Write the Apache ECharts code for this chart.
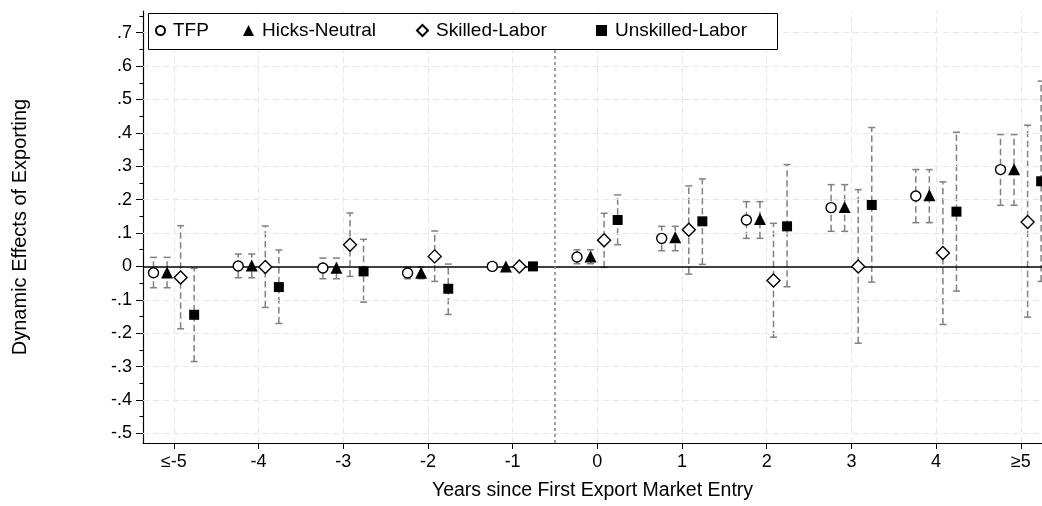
<!DOCTYPE html>
<html>
<head>
<meta charset="utf-8">
<script src="https://cdn.jsdelivr.net/npm/echarts@6/dist/echarts.min.js"></script>
<style>
html, body { margin: 0; padding: 0; background: #fff; }
#main { width: 1042px; height: 506px; }
</style>
</head>
<body>
<div id="main"></div>
<script>
// ---- data ----
var xTicks = [-5, -4, -3, -2, -1, 0, 1, 2, 3, 4, 5];
var xLabels = ['≤-5', '-4', '-3', '-2', '-1', '0', '1', '2', '3', '4', '≥5'];
var yTicks = [-0.5, -0.4, -0.3, -0.2, -0.1, 0, 0.1, 0.2, 0.3, 0.4, 0.5, 0.6, 0.7];
var yLabels = ['-.5', '-.4', '-.3', '-.2', '-.1', '0', '.1', '.2', '.3', '.4', '.5', '.6', '.7'];
var yMinor = [-0.45, -0.35, -0.25, -0.15, -0.05, 0.05, 0.15, 0.25, 0.35, 0.45, 0.55, 0.65, 0.75];

var tfp     = [-0.019, 0.001, -0.005, -0.020, 0, 0.028, 0.084, 0.139, 0.176, 0.211, 0.290];
var tfpLo   = [-0.064, -0.034, -0.037, -0.037, null, 0.008, 0.047, 0.084, 0.105, 0.131, 0.183];
var tfpHi   = [0.027, 0.037, 0.025, -0.002, null, 0.050, 0.120, 0.194, 0.245, 0.290, 0.395];

var hicks   = [-0.018, 0.003, -0.004, -0.019, 0, 0.030, 0.087, 0.142, 0.178, 0.213, 0.291];
var hicksLo = [-0.064, -0.034, -0.037, -0.037, null, 0.008, 0.047, 0.084, 0.105, 0.131, 0.183];
var hicksHi = [0.027, 0.037, 0.025, -0.002, null, 0.050, 0.120, 0.194, 0.245, 0.290, 0.395];

var skilled   = [-0.033, -0.002, 0.065, 0.030, 0, 0.078, 0.110, -0.042, 0.000, 0.040, 0.133];
var skilledLo = [-0.187, -0.123, -0.030, -0.045, null, -0.003, -0.023, -0.212, -0.230, -0.174, -0.152];
var skilledHi = [0.122, 0.121, 0.160, 0.106, null, 0.159, 0.241, 0.129, 0.230, 0.253, 0.423];

var unskilled   = [-0.145, -0.062, -0.015, -0.067, 0, 0.139, 0.135, 0.120, 0.184, 0.164, 0.255];
var unskilledLo = [-0.285, -0.171, -0.107, -0.144, null, 0.065, 0.006, -0.061, -0.047, -0.074, -0.045];
var unskilledHi = [-0.006, 0.049, 0.081, 0.007, null, 0.214, 0.262, 0.305, 0.416, 0.402, 0.555];

var chartDom = document.getElementById('main');
var myChart = echarts.init(chartDom);
var FONT = '"Liberation Sans", Arial, sans-serif';

// points of one series, shifted a bit left/right of the category
function points(vals, off) {
    return vals.map(function (v, i) { return [xTicks[i] + off, v]; });
}
function bars(lo, hi, off) {
    var out = [];
    for (var i = 0; i < lo.length; i++) {
        if (lo[i] == null) continue;
        out.push([xTicks[i] + off, lo[i], hi[i]]);
    }
    return out;
}

function renderBar(params, api) {
    var x = api.value(0);
    var a = api.coord([x, api.value(1)]);
    var b = api.coord([x, api.value(2)]);
    var w = 3.5;
    var st = { stroke: '#808080', lineWidth: 1.5 };
    return {
        type: 'group',
        children: [
            { type: 'line', shape: { x1: a[0], y1: a[1], x2: b[0], y2: b[1] },
              style: { stroke: '#808080', lineWidth: 1.5, lineDash: [6.5, 3.5] } },
            { type: 'line', shape: { x1: a[0] - w, y1: a[1], x2: a[0] + w, y2: a[1] }, style: st },
            { type: 'line', shape: { x1: b[0] - w, y1: b[1], x2: b[0] + w, y2: b[1] }, style: st }
        ]
    };
}

function barSeries(lo, hi, off) {
    return {
        type: 'custom',
        renderItem: renderBar,
        data: bars(lo, hi, off),
        encode: { x: 0, y: [1, 2] },
        silent: true,
        z: 3
    };
}

// dashed grid lines, drawn across the whole plot
var gridLines = [];
yTicks.forEach(function (v) { if (v !== 0) gridLines.push({ yAxis: v }); });
xTicks.forEach(function (v) { gridLines.push({ xAxis: v }); });

// one legend per key so each sits where the original puts it
function legendAt(name, left, size) {
    return {
        data: [name],
        left: left,
        top: 21,
        padding: 0,
        itemWidth: size,
        itemHeight: size,
        itemGap: 0,
        selectedMode: false,
        z: 10,
        textStyle: { fontFamily: FONT, fontSize: 19, color: '#000', padding: [0, 0, 0, 3] }
    };
}

option = {
    backgroundColor: '#fff',
    animation: false,
    grid: { left: 143, right: 0, top: 11, bottom: 61 },
    graphic: [{
        type: 'rect',
        shape: { x: 148.5, y: 13.5, width: 629, height: 36 },
        style: { fill: '#fff', stroke: '#000', lineWidth: 1 },
        z: 8
    }],
    legend: [
        legendAt('TFP', 155, 9),
        legendAt('Hicks-Neutral', 243, 11),
        legendAt('Skilled-Labor', 416, 11),
        legendAt('Unskilled-Labor', 596, 11)
    ],
    xAxis: {
        type: 'value',
        min: -5.364,
        max: 5.25,
        name: 'Years since First Export Market Entry',
        nameLocation: 'middle',
        nameGap: 38,
        nameTextStyle: { fontFamily: FONT, fontSize: 19.5, color: '#000' },
        axisLine: { onZero: false, lineStyle: { color: '#000', width: 1.2 } },
        axisTick: { customValues: xTicks, length: 6, lineStyle: { color: '#000' } },
        axisLabel: {
            customValues: xTicks,
            margin: 10,
            fontFamily: FONT, fontSize: 18, color: '#000',
            formatter: function (v) { return xLabels[xTicks.indexOf(Math.round(v))]; }
        },
        splitLine: { show: false }
    },
    yAxis: [{
        type: 'value',
        min: -0.529,
        max: 0.765,
        name: 'Dynamic Effects of Exporting',
        nameLocation: 'middle',
        nameGap: 113,
        nameTextStyle: { fontFamily: FONT, fontSize: 20, color: '#000' },
        axisLine: { show: true, onZero: false, lineStyle: { color: '#000', width: 1.2 } },
        axisTick: { customValues: yTicks, length: 7, lineStyle: { color: '#000' } },
        axisLabel: {
            customValues: yTicks,
            margin: 11,
            fontFamily: FONT, fontSize: 18, color: '#000',
            formatter: function (v) {
                var i = yTicks.findIndex(function (t) { return Math.abs(t - v) < 1e-6; });
                return i < 0 ? '' : yLabels[i];
            }
        },
        splitLine: { show: false }
    }, {
        type: 'value',
        min: -0.529,
        max: 0.765,
        position: 'left',
        axisLine: { show: false, onZero: false },
        axisTick: { show: true, customValues: yMinor, length: 3.5, lineStyle: { color: '#000' } },
        axisLabel: { show: false },
        splitLine: { show: false }
    }],
    series: [
        {
            type: 'line',
            data: [],
            silent: true,
            markLine: {
                silent: true,
                symbol: 'none',
                label: { show: false },
                lineStyle: { color: '#e6e6e6', type: [6, 4], width: 1 },
                data: gridLines
            },
            z: 1
        },
        {
            type: 'line',
            data: [],
            silent: true,
            markLine: {
                silent: true,
                symbol: 'none',
                label: { show: false },
                data: [
                    { yAxis: 0, lineStyle: { color: '#000', type: 'solid', width: 1.5 } },
                    { xAxis: -0.5, lineStyle: { color: '#808080', type: [3, 3], width: 1.5 } }
                ]
            },
            z: 2
        },
        barSeries(tfpLo, tfpHi, -0.24),
        barSeries(hicksLo, hicksHi, -0.08),
        barSeries(skilledLo, skilledHi, 0.08),
        barSeries(unskilledLo, unskilledHi, 0.24),
        {
            name: 'TFP', type: 'scatter', symbol: 'circle', symbolSize: 10,
            data: points(tfp, -0.24),
            itemStyle: { color: '#fff', borderColor: '#000', borderWidth: 1.4, opacity: 1 },
            z: 5
        },
        {
            name: 'Hicks-Neutral', type: 'scatter', symbol: 'triangle', symbolSize: 12,
            data: points(hicks, -0.08),
            itemStyle: { color: '#000', opacity: 1 },
            z: 5
        },
        {
            name: 'Skilled-Labor', type: 'scatter', symbol: 'diamond', symbolSize: 13,
            data: points(skilled, 0.08),
            itemStyle: { color: '#fff', borderColor: '#000', borderWidth: 1.4, opacity: 1 },
            z: 5
        },
        {
            name: 'Unskilled-Labor', type: 'scatter', symbol: 'rect', symbolSize: 10,
            data: points(unskilled, 0.24),
            itemStyle: { color: '#000', opacity: 1 },
            z: 5
        }
    ]
};

option && myChart.setOption(option);
</script>
</body>
</html>
